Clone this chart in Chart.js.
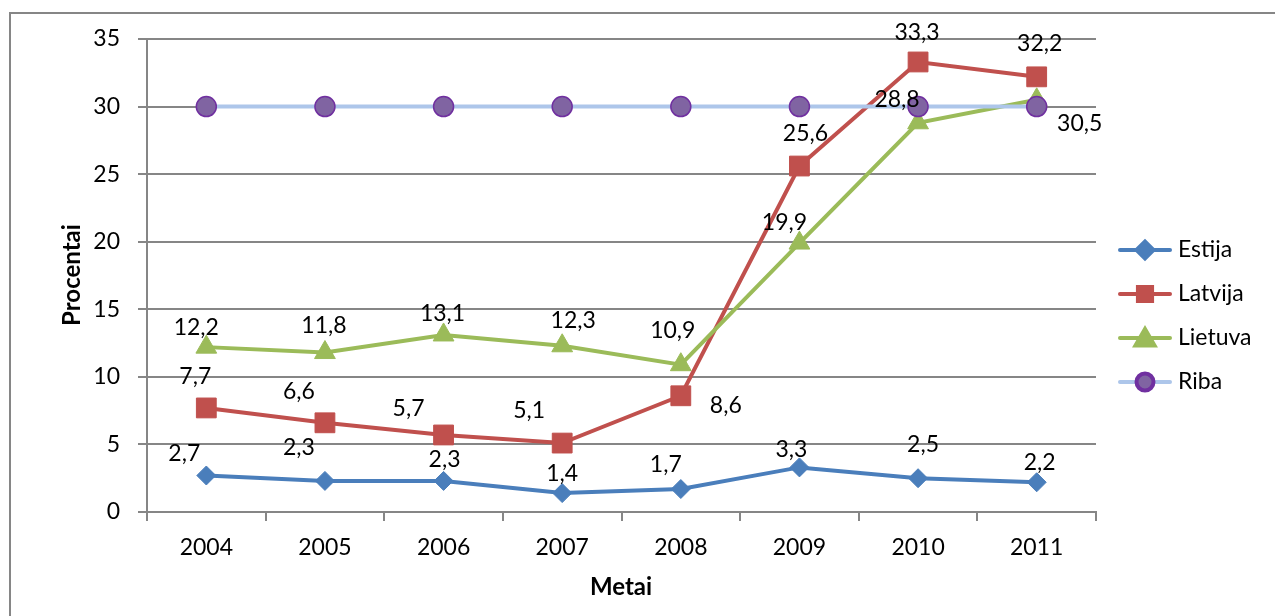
<!DOCTYPE html>
<html>
<head>
<meta charset="utf-8">
<script src="https://cdn.jsdelivr.net/npm/chart.js@4/dist/chart.umd.min.js"></script>
<style>
  html, body { margin: 0; padding: 0; background: #fff; }
  #wrap { width: 1275px; height: 616px; }
</style>
</head>
<body>
<div id="wrap"><canvas id="chart" width="1275" height="616"></canvas></div>
<script>
// data
const years = ['2004', '2005', '2006', '2007', '2008', '2009', '2010', '2011'];
const estija = [2.7, 2.3, 2.3, 1.4, 1.7, 3.3, 2.5, 2.2];
const latvija = [7.7, 6.6, 5.7, 5.1, 8.6, 25.6, 33.3, 32.2];
const lietuva = [12.2, 11.8, 13.1, 12.3, 10.9, 19.9, 28.8, 30.5];
const riba = [30, 30, 30, 30, 30, 30, 30, 30];
const yMin = 0, yMax = 35, yStep = 5;

// where each value label sits, relative to its point (px)
const estijaLabelPos = [[-22, -22], [-26, -33], [1, -21], [0, -20], [-15, -24], [-8, -18], [5, -34], [3, -20]];
const latvijaLabelPos = [[-11, -31], [-26, -31], [-35, -26], [-33, -32], [45, 10], [6, -32], [-1, -29], [3, -33]];
const lietuvaLabelPos = [[-10, -20], [-1, -27], [-1, -21], [11, -25], [-8, -34], [-15, -20], [-21, -23], [43, 24]];

const FONT = 'Lato';
const GRID = '#868686';
const TXT = 23;

Chart.defaults.font.family = FONT;
Chart.defaults.color = '#000';

const labelsPlugin = {
    id: 'valueLabels',
    afterDatasetsDraw(chart) {
        const ctx = chart.ctx;
        ctx.save();
        ctx.font = `${TXT}px ${FONT}`;
        ctx.fillStyle = '#000';
        ctx.textAlign = 'center';
        ctx.textBaseline = 'middle';
        chart.data.datasets.forEach((ds, i) => {
            if (!ds.labelPos) return;
            const meta = chart.getDatasetMeta(i);
            meta.data.forEach((pt, j) => {
                const off = ds.labelPos[j];
                ctx.fillText(String(ds.data[j]).replace('.', ','), pt.x + off[0], pt.y + off[1]);
            });
        });
        ctx.restore();
    }
};

const decorPlugin = {
    id: 'decor',
    afterDraw(chart) {
        const ctx = chart.ctx;
        ctx.save();
        // outer frame (only top and left visible)
        ctx.strokeStyle = GRID;
        ctx.lineWidth = 2;
        ctx.beginPath();
        ctx.moveTo(10, 620);
        ctx.lineTo(10, 13);
        ctx.lineTo(1280, 13);
        ctx.stroke();

        // axis titles
        ctx.fillStyle = '#000';
        ctx.font = `bold 24px ${FONT}`;
        ctx.textAlign = 'center';
        ctx.textBaseline = 'middle';
        ctx.fillText('Metai', 621, 587);
        ctx.translate(72, 275);
        ctx.rotate(-Math.PI / 2);
        ctx.fillText('Procentai', 0, 0);
        ctx.restore();

        // legend
        ctx.save();
        const ys = [250, 294, 338, 382];
        const legendRadius = [8.5, 10, 11, 8.5];
        chart.data.datasets.forEach((ds, i) => {
            const y = ys[i];
            ctx.strokeStyle = ds.borderColor;
            ctx.lineWidth = 4;
            ctx.lineCap = 'round';
            ctx.beginPath();
            ctx.moveTo(1120, y);
            ctx.lineTo(1170, y);
            ctx.stroke();
            ctx.fillStyle = ds.pointBackgroundColor;
            ctx.strokeStyle = ds.pointBorderColor;
            Chart.helpers.drawPoint(ctx, {
                pointStyle: ds.pointStyle,
                radius: legendRadius[i],
                rotation: 0,
                borderWidth: ds.pointBorderWidth
            }, 1145, y + (ds.pointStyle === 'triangle' ? 2 : 0));
            ctx.fillStyle = '#000';
            ctx.font = `${TXT}px ${FONT}`;
            ctx.textAlign = 'left';
            ctx.textBaseline = 'middle';
            ctx.fillText(ds.label, 1178, y);
        });
        ctx.restore();
    }
};

new Chart(document.getElementById('chart'), {
    type: 'line',
    data: {
        labels: years,
        datasets: [
            {
                label: 'Estija',
                data: estija,
                labelPos: estijaLabelPos,
                borderColor: '#4a7ebb',
                borderWidth: 4,
                pointStyle: 'rectRot',
                pointRadius: 9.5,
                pointBackgroundColor: '#4a7ebb',
                pointBorderColor: '#4a7ebb',
                pointBorderWidth: 1,
                order: 4
            },
            {
                label: 'Latvija',
                data: latvija,
                labelPos: latvijaLabelPos,
                borderColor: '#c0504d',
                borderWidth: 4,
                pointStyle: 'rect',
                pointRadius: 14,
                pointBackgroundColor: '#c0504d',
                pointBorderColor: '#c0504d',
                pointBorderWidth: 1,
                order: 3
            },
            {
                label: 'Lietuva',
                data: lietuva,
                labelPos: lietuvaLabelPos,
                borderColor: '#9bbb59',
                borderWidth: 4,
                pointStyle: 'triangle',
                pointRadius: 12,
                pointBackgroundColor: '#9bbb59',
                pointBorderColor: '#9bbb59',
                pointBorderWidth: 1,
                order: 2
            },
            {
                label: 'Riba',
                data: riba,
                borderColor: '#adc6ea',
                borderWidth: 4,
                pointStyle: 'circle',
                pointRadius: 10,
                pointBackgroundColor: '#8064a2',
                pointBorderColor: '#7030a0',
                pointBorderWidth: 1.5,
                order: 1
            }
        ]
    },
    options: {
        responsive: false,
        animation: false,
        layout: { padding: { top: 39, right: 179, left: 0, bottom: 0 } },
        plugins: {
            legend: { display: false },
            tooltip: { enabled: false }
        },
        elements: { line: { tension: 0 } },
        scales: {
            x: {
                offset: true,
                afterFit: (scale) => { scale.height = 104; },
                grid: {
                    offset: true,
                    drawOnChartArea: false,
                    drawTicks: true,
                    tickLength: 9,
                    color: GRID,
                    lineWidth: 2
                },
                border: { color: GRID, width: 2 },
                ticks: { padding: 13, font: { size: TXT }, color: '#000' }
            },
            y: {
                min: yMin,
                max: yMax,
                afterFit: (scale) => { scale.width = 147; },
                grid: {
                    color: GRID,
                    lineWidth: 2,
                    tickLength: 9
                },
                border: { color: GRID, width: 2 },
                ticks: { stepSize: yStep, padding: 18, font: { size: TXT }, color: '#000' }
            }
        }
    },
    plugins: [labelsPlugin, decorPlugin]
});
</script>
</body>
</html>
